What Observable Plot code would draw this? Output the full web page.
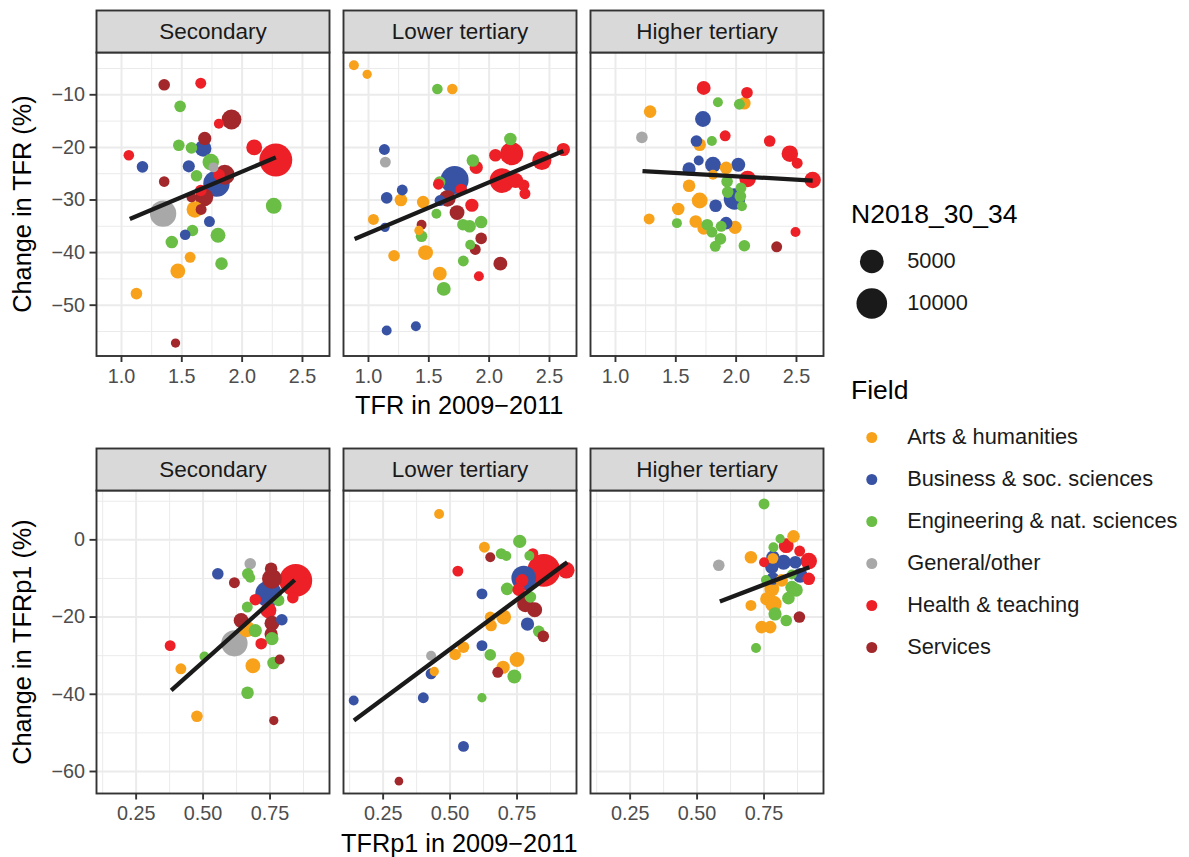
<!DOCTYPE html>
<html><head><meta charset="utf-8">
<script src="https://cdn.jsdelivr.net/npm/d3@7"></script>
<script src="https://cdn.jsdelivr.net/npm/@observablehq/plot@0.6"></script>
<style>
html,body{margin:0;padding:0;background:#fff;}
#wrap{position:relative;width:1189px;height:857px;overflow:hidden;font-family:"Liberation Sans",Arial,sans-serif;color:#000;background:#fff;}
.abs{position:absolute;white-space:nowrap;}
.lab{height:30px;line-height:30px;font-size:25.3px;}
</style></head><body>
<div id="wrap"></div>
<script>
const levels = ["Secondary", "Lower tertiary", "Higher tertiary"];
const fieldCodes = ["A", "B", "E", "G", "H", "S"];
const fieldLabels = ["Arts & humanities", "Business & soc. sciences", "Engineering & nat. sciences", "General/other", "Health & teaching", "Services"];
const fieldColors = ["#f8a21c", "#3953a4", "#6abd45", "#a8a8a8", "#ec2026", "#a2282b"];
const sizeBreaks = [5000, 10000];

// [TFR 2009-2011, change in TFR (%), N2018_30_34, field]
const tfrSecondary = [
  [1.354,-8.1,377,"S"],[1.657,-7.8,278,"H"],[1.486,-12.2,377,"E"],[1.807,-15.5,156,"H"],[1.912,-14.7,2934,"S"],
  [1.69,-18.3,698,"S"],[1.475,-19.6,377,"E"],[1.58,-20.1,377,"E"],[1.677,-20.2,1620,"B"],[2.10,-20.0,1406,"H"],
  [2.279,-22.4,12040,"H"],[1.061,-21.5,233,"H"],[1.174,-23.7,377,"B"],[1.558,-23.6,470,"B"],[1.74,-22.8,1620,"E"],
  [1.762,-23.8,156,"G"],[1.622,-25.4,377,"E"],[1.809,-25.2,377,"H"],[1.856,-25.2,2934,"S"],[1.787,-26.9,6710,"B"],
  [1.354,-26.5,233,"S"],[1.685,-29.5,2230,"S"],[1.657,-28.2,377,"H"],[1.58,-29.5,156,"S"],[1.608,-31.8,1620,"A"],
  [1.66,-31.8,278,"S"],[1.345,-32.6,6710,"G"],[2.262,-31.1,1406,"E"],[1.729,-34.1,278,"B"],[1.588,-35.8,377,"E"],
  [1.528,-36.6,233,"B"],[1.80,-36.7,1111,"E"],[1.417,-38.0,556,"E"],[1.569,-40.9,278,"A"],[1.829,-42.1,556,"E"],
  [1.467,-43.5,1111,"A"],[1.124,-47.8,377,"A"],[1.448,-57.2,95,"S"]
];
const tfrLower = [
  [0.879,-4.4,156,"A"],[0.989,-6.1,95,"A"],[1.571,-8.9,233,"E"],[1.695,-8.9,233,"A"],[2.176,-18.4,556,"E"],
  [1.132,-20.4,278,"B"],[1.14,-22.8,278,"G"],[2.052,-21.5,556,"H"],[2.187,-21.2,4635,"H"],[2.437,-22.5,2644,"H"],
  [2.615,-20.4,698,"H"],[1.865,-22.5,556,"E"],[1.893,-23.8,698,"H"],[1.714,-26.2,7900,"B"],[1.59,-26.6,377,"E"],
  [1.58,-27.0,278,"H"],[1.769,-28.0,377,"H"],[2.107,-26.3,5625,"H"],[2.22,-26.3,1111,"H"],[2.286,-27.2,377,"H"],
  [2.297,-28.8,278,"H"],[1.28,-28.1,278,"B"],[1.151,-29.6,377,"B"],[1.269,-30.0,556,"A"],[1.453,-30.4,556,"A"],
  [1.593,-30.1,278,"B"],[1.654,-29.7,1620,"S"],[1.857,-31.0,698,"H"],[1.734,-32.4,1111,"S"],[1.563,-32.6,156,"E"],
  [1.041,-33.7,278,"A"],[1.137,-35.2,95,"B"],[1.44,-34.7,156,"S"],[1.418,-35.8,95,"A"],[1.44,-36.9,377,"E"],
  [1.783,-34.7,377,"E"],[1.838,-35.0,556,"E"],[1.934,-34.2,556,"E"],[1.934,-37.3,377,"S"],[1.843,-38.5,156,"E"],
  [1.885,-39.4,278,"S"],[1.212,-40.6,377,"A"],[1.473,-40.0,1111,"A"],[1.786,-41.6,278,"E"],[2.093,-42.1,851,"S"],
  [1.915,-44.5,156,"H"],[1.591,-44.0,851,"A"],[1.624,-46.9,851,"E"],[1.151,-54.8,156,"B"],[1.393,-54.0,156,"B"]
];
const tfrHigher = [
  [1.731,-8.7,851,"H"],[2.09,-9.6,377,"H"],[1.849,-11.4,156,"E"],[2.027,-11.8,278,"E"],[2.068,-11.6,556,"A"],
  [1.287,-13.2,556,"A"],[1.725,-14.6,1406,"B"],[1.219,-18.1,377,"G"],[1.909,-17.8,278,"H"],[1.671,-18.8,377,"B"],
  [1.698,-19.5,556,"A"],[1.799,-18.8,156,"E"],[2.278,-18.8,377,"H"],[2.445,-21.2,1620,"H"],[2.506,-23.0,278,"H"],
  [1.69,-22.5,156,"B"],[1.808,-23.3,1406,"B"],[2.018,-23.3,851,"B"],[1.61,-24.1,698,"B"],[1.917,-23.9,556,"A"],
  [1.808,-25.2,156,"A"],[2.095,-26.0,1620,"H"],[2.634,-26.2,1620,"H"],[1.925,-26.5,377,"E"],[2.04,-27.7,278,"E"],
  [1.93,-28.5,377,"E"],[1.986,-29.8,3731,"B"],[2.035,-29.3,377,"E"],[2.048,-31.2,156,"E"],[1.61,-27.3,556,"A"],
  [1.698,-30.1,1406,"A"],[1.83,-31.1,556,"B"],[1.52,-31.7,556,"A"],[1.279,-33.6,278,"A"],[1.509,-34.4,156,"E"],
  [1.665,-34.1,556,"A"],[1.761,-34.7,377,"E"],[1.731,-35.4,556,"A"],[1.917,-34.4,556,"B"],[1.876,-35.0,278,"E"],
  [1.991,-35.2,698,"A"],[1.799,-36.1,278,"E"],[1.87,-37.4,377,"E"],[1.827,-38.8,278,"E"],[2.068,-38.7,377,"E"],
  [2.492,-36.1,156,"H"],[2.336,-38.9,278,"S"]
];
// [TFRp1 2009-2011, change in TFRp1 (%), N2018_30_34, field]
const p1Secondary = [
  [0.676,-6.2,377,"G"],[0.555,-8.8,377,"B"],[0.667,-8.8,377,"E"],[0.676,-9.8,156,"E"],[0.754,-7.5,556,"S"],
  [0.757,-10.1,2934,"S"],[0.617,-11.1,278,"S"],[0.846,-10.5,12040,"H"],[0.744,-14.0,6710,"B"],[0.835,-15.0,377,"H"],
  [0.695,-15.5,377,"H"],[0.782,-15.7,377,"E"],[0.665,-17.4,278,"E"],[0.744,-18.3,1406,"H"],[0.794,-20.7,377,"B"],
  [0.642,-20.9,1111,"S"],[0.757,-21.6,1111,"S"],[0.663,-23.1,1620,"A"],[0.695,-23.5,698,"E"],[0.754,-24.4,698,"S"],
  [0.757,-25.6,698,"E"],[0.717,-26.9,377,"H"],[0.617,-26.8,6710,"G"],[0.377,-27.4,278,"H"],[0.505,-30.2,156,"E"],
  [0.417,-33.4,278,"A"],[0.686,-32.6,1111,"A"],[0.763,-31.9,556,"E"],[0.786,-31.0,156,"S"],[0.666,-39.6,556,"E"],
  [0.477,-45.7,377,"A"],[0.764,-46.8,95,"S"]
];
const p1Lower = [
  [0.459,6.7,156,"A"],[0.76,-0.4,698,"E"],[0.628,-1.9,278,"A"],[0.691,-3.6,278,"E"],[0.71,-4.2,156,"E"],
  [0.65,-4.5,156,"S"],[0.796,-4.1,156,"E"],[0.809,-3.6,278,"H"],[0.85,-7.9,12040,"H"],[0.934,-7.9,1620,"H"],
  [0.775,-9.9,5625,"B"],[0.529,-8.1,278,"H"],[0.769,-10.5,556,"H"],[0.713,-12.7,556,"E"],[0.756,-12.9,556,"H"],
  [0.619,-14.0,278,"B"],[0.8,-14.8,377,"E"],[0.781,-16.6,1620,"S"],[0.816,-18.1,1111,"S"],[0.65,-20.0,278,"A"],
  [0.70,-20.0,1111,"A"],[0.653,-22.2,377,"A"],[0.789,-21.8,698,"B"],[0.831,-23.7,377,"E"],[0.848,-25.0,377,"S"],
  [0.429,-30.0,156,"G"],[0.55,-27.8,377,"A"],[0.519,-29.7,377,"A"],[0.619,-27.4,278,"B"],[0.65,-29.8,377,"E"],
  [0.75,-31.0,1111,"A"],[0.698,-33.0,698,"A"],[0.678,-34.3,278,"S"],[0.74,-35.4,851,"E"],[0.441,-34.1,95,"A"],
  [0.429,-34.7,278,"B"],[0.14,-41.6,156,"B"],[0.40,-40.9,278,"B"],[0.619,-40.9,95,"E"],[0.55,-53.5,278,"B"],
  [0.309,-62.5,48,"S"]
];
const p1Higher = [
  [0.75,9.3,278,"E"],[0.86,0.9,556,"A"],[0.81,0.3,95,"E"],[0.833,-1.5,1111,"H"],[0.785,-1.9,156,"E"],
  [0.701,-4.5,556,"A"],[0.581,-6.6,377,"G"],[0.75,-5.8,156,"H"],[0.783,-4.5,698,"B"],[0.783,-4.8,278,"A"],
  [0.823,-5.8,1111,"B"],[0.883,-2.9,278,"H"],[0.917,-5.5,1620,"H"],[0.867,-5.8,556,"B"],[0.779,-7.1,698,"B"],
  [0.917,-10.1,556,"H"],[0.885,-9.2,1111,"B"],[0.757,-10.4,156,"E"],[0.783,-10.0,556,"B"],[0.816,-10.5,556,"A"],
  [0.854,-9.0,156,"E"],[0.854,-12.3,698,"E"],[0.87,-13.0,698,"E"],[0.779,-12.7,1111,"A"],[0.76,-15.3,698,"A"],
  [0.785,-16.6,1620,"A"],[0.841,-15.1,556,"E"],[0.701,-17.0,278,"A"],[0.791,-19.2,698,"E"],[0.833,-20.9,377,"E"],
  [0.882,-20.0,377,"S"],[0.741,-22.6,556,"A"],[0.773,-22.6,556,"A"],[0.72,-28.0,156,"E"]
];
// fitted (lm) line ends
const fitTfrSecondary = [[1.069,-33.6],[2.279,-21.9]];
const fitTfrLower = [[0.885,-37.4],[2.615,-20.7]];
const fitTfrHigher = [[1.224,-24.5],[2.634,-26.3]];
const fitP1Secondary = [[0.381,-39.0],[0.842,-10.4]];
const fitP1Lower = [[0.141,-46.8],[0.9375,-5.8]];
const fitP1Higher = [[0.585,-16.0],[0.919,-7.1]];

const fieldOf = c => fieldLabels[fieldCodes.indexOf(c)];
const rows = (level, arr) => arr.map(([x, y, n, f]) => ({level, x, y, n, field: fieldOf(f)}));
const fitRows = (level, arr) => arr.map(([x, y]) => ({level, x, y}));

const rScale = {type: "sqrt", domain: [0, 10000], range: [3.5, 15.3]};
const colorScale = {domain: fieldLabels, range: fieldColors};
const font = '"Liberation Sans", Arial, sans-serif';

function panelRow({data, fits, xDomain, yDomain, xMajor, xMinor, yMajor, yMinor, xFormat, height, marginBottom}) {
  const panelH = height - 52 - marginBottom;
  return Plot.plot({
    width: 830, height, marginLeft: 95, marginRight: 6.5, marginTop: 52, marginBottom,
    style: {fontFamily: font, background: "transparent", overflow: "visible"},
    fx: {domain: levels, paddingInner: 0.0566, paddingOuter: 0, axis: null, label: null},
    x: {domain: xDomain, label: null},
    y: {domain: yDomain, label: null},
    r: rScale,
    color: colorScale,
    marks: [
      Plot.ruleX(xMinor, {stroke: "#ebebeb", strokeWidth: 1}),
      Plot.ruleY(yMinor, {stroke: "#ebebeb", strokeWidth: 1}),
      Plot.ruleX(xMajor, {stroke: "#ebebeb", strokeWidth: 2}),
      Plot.ruleY(yMajor, {stroke: "#ebebeb", strokeWidth: 2}),
      Plot.dot(data, {x: "x", y: "y", r: "n", fill: "field", fx: "level"}),
      Plot.line(fits, {x: "x", y: "y", z: "level", fx: "level", stroke: "#1a1a1a", strokeWidth: 4.3, strokeLinecap: "butt"}),
      Plot.frame({stroke: "#333333", strokeWidth: 1.9}),
      Plot.frame({fill: "#d9d9d9", stroke: "#333333", strokeWidth: 1.9, insetTop: -42, insetBottom: panelH}),
      Plot.text(levels, {fx: d => d, text: d => d, frameAnchor: "top", lineAnchor: "middle", dy: -21, fontSize: 22.5, fill: "#1a1a1a"}),
      Plot.axisX({ticks: xMajor, tickFormat: xFormat, tickSize: 6.5, tickPadding: 6, fontSize: 19.8, fill: "#4d4d4d", stroke: "#333333", strokeWidth: 1.9, label: null}),
      Plot.axisY({ticks: yMajor, tickSize: 6.5, tickPadding: 5, fontSize: 19.8, fill: "#4d4d4d", stroke: "#333333", strokeWidth: 1.9, label: null})
    ]
  });
}

const topData = [...rows(levels[0], tfrSecondary), ...rows(levels[1], tfrLower), ...rows(levels[2], tfrHigher)];
const topFits = [...fitRows(levels[0], fitTfrSecondary), ...fitRows(levels[1], fitTfrLower), ...fitRows(levels[2], fitTfrHigher)];
const botData = [...rows(levels[0], p1Secondary), ...rows(levels[1], p1Lower), ...rows(levels[2], p1Higher)];
const botFits = [...fitRows(levels[0], fitP1Secondary), ...fitRows(levels[1], fitP1Lower), ...fitRows(levels[2], fitP1Higher)];

const topChart = panelRow({
  data: topData, fits: topFits, xDomain: [0.793, 2.724], yDomain: [-59.66, -1.96],
  xMajor: [1, 1.5, 2, 2.5], xMinor: [1.25, 1.75, 2.25],
  yMajor: [-10, -20, -30, -40, -50], yMinor: [-5, -15, -25, -35, -45, -55],
  xFormat: d3.format(".1f"), height: 430, marginBottom: 74.5
});
const botChart = panelRow({
  data: botData, fits: botFits, xDomain: [0.102, 0.972], yDomain: [-65.7, 12.78],
  xMajor: [0.25, 0.5, 0.75], xMinor: [0.125, 0.375, 0.625, 0.875],
  yMajor: [0, -20, -40, -60], yMinor: [10, -10, -30, -50],
  xFormat: d3.format(".2f"), height: 419, marginBottom: 64
});

const sizeLegend = Plot.plot({
  width: 330, height: 100, margin: 0,
  style: {fontFamily: font, background: "transparent", overflow: "visible"},
  y: {type: "point", domain: sizeBreaks, range: [30.7, 72.7], padding: 0, axis: null},
  r: rScale,
  marks: [
    Plot.dot(sizeBreaks, {y: d => d, r: d => d, fill: "#1a1a1a", frameAnchor: "left", dx: 31.3}),
    Plot.text(sizeBreaks, {y: d => d, text: d => String(d), frameAnchor: "left", lineAnchor: "middle", dx: 66.7, textAnchor: "start", fontSize: 21.8, fill: "#1a1a1a"})
  ]
});
const fieldLegend = Plot.plot({
  width: 349, height: 260, margin: 0,
  style: {fontFamily: font, background: "transparent", overflow: "visible"},
  y: {type: "point", domain: fieldLabels, range: [26.7, 236.7], padding: 0, axis: null},
  color: colorScale,
  marks: [
    Plot.dot(fieldLabels, {y: d => d, fill: d => d, r: 5.5, frameAnchor: "left", dx: 31.3}),
    Plot.text(fieldLabels, {y: d => d, text: d => d, frameAnchor: "left", lineAnchor: "middle", dx: 66.7, textAnchor: "start", fontSize: 21.8, fill: "#1a1a1a"})
  ]
});

const wrap = document.getElementById("wrap");
function place(el, left, top) {
  el.style.position = "absolute"; el.style.left = left + "px"; el.style.top = top + "px";
  wrap.appendChild(el);
}
place(topChart, 0, 0);
place(botChart, 0, 438);
place(sizeLegend, 840, 230);
place(fieldLegend, 840, 410);

function label(text, left, cy, opts = {}) {
  const d = document.createElement("div");
  d.className = "abs lab";
  d.textContent = text;
  d.style.left = left + "px";
  d.style.top = (cy - 15) + "px";
  if (opts.width) { d.style.width = opts.width + "px"; d.style.textAlign = "center"; }
  if (opts.fontSize) d.style.fontSize = opts.fontSize + "px";
  if (opts.rotate) { d.style.transform = "rotate(-90deg)"; }
  wrap.appendChild(d);
}
label("TFR in 2009\u22122011", 95, 405, {width: 728.5});
label("TFRp1 in 2009\u22122011", 95, 843, {width: 728.5});
label("Change in TFR (%)", 22 - 200, 203.75, {width: 400, rotate: true});
label("Change in TFRp1 (%)", 22 - 200, 641.5, {width: 400, rotate: true});
label("N2018_30_34", 851, 214, {fontSize: 26.5});
label("Field", 851, 390, {fontSize: 26.5});
</script>
</body></html>
